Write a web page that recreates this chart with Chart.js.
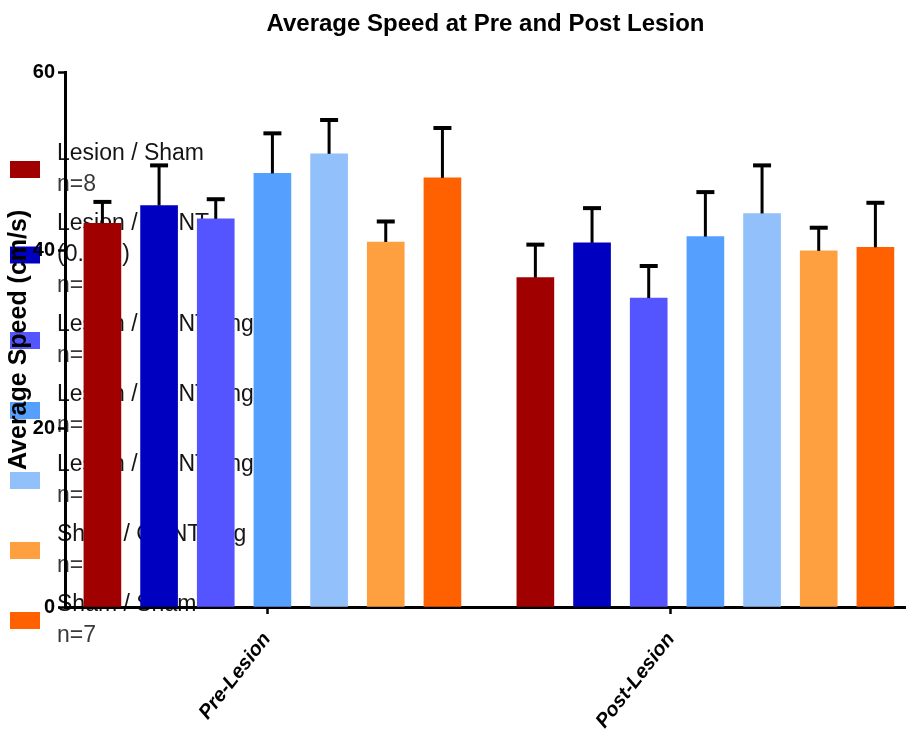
<!DOCTYPE html>
<html>
<head>
<meta charset="utf-8">
<script src="https://cdn.jsdelivr.net/npm/chart.js@4.4.1/dist/chart.umd.min.js"></script>
<style>
  html, body { margin: 0; padding: 0; background: #fff; }
  #wrap { width: 906px; height: 736px; }
</style>
</head>
<body>
<div id="wrap"><canvas id="speedChart" width="906" height="736"></canvas></div>
<script>
// ---- data ----
const categories = ['Pre-Lesion', 'Post-Lesion'];
const seriesNames = [
  'Lesion / Sham',
  'Lesion / GDNT (0.5ng)',
  'Lesion / GDNT 1ng',
  'Lesion / GDNT 2ng',
  'Lesion / GDNT 4ng',
  'Sham / GDNT 4ng',
  'Sham / Sham'
];
const groupSizes = [8, 6, 7, 8, 8, 8, 7];
const seriesColors = ['#a00000', '#0000c0', '#5555ff', '#55a0ff', '#92c0fa', '#ffa040', '#ff6000'];
const preMeans   = [43.1, 45.1, 43.6, 48.7, 50.9, 41.0, 48.2];
const preErrors  = [2.4, 4.5, 2.2, 4.5, 3.8, 2.3, 5.6];
const postMeans  = [37.0, 40.9, 34.7, 41.6, 44.2, 40.0, 40.4];
const postErrors = [3.7, 3.9, 3.6, 5.0, 5.4, 2.6, 5.0];
const yTicks = [0, 20, 40, 60];

// ---- layout of the bar slots along the x axis (one unit = one bar pitch) ----
const GROUP_START = [0.66, 8.30];
const CATEGORY_TICK_AT = [3.565, 10.69];
const X_MAX = 14.84;
const FONT = '"Liberation Sans", Arial, Helvetica, sans-serif';

const datasets = seriesNames.map((name, i) => ({
  label: name,
  data: [
    { x: GROUP_START[0] + i, y: preMeans[i] },
    { x: GROUP_START[1] + i, y: postMeans[i] }
  ],
  errors: [preErrors[i], postErrors[i]],
  backgroundColor: seriesColors[i],
  borderWidth: 0,
  barThickness: 37,
  grouped: false
}));

// upper SEM whiskers with caps
const errorBars = {
  id: 'errorBars',
  afterDatasetsDraw(chart) {
    const ctx = chart.ctx;
    const yScale = chart.scales.y;
    ctx.save();
    ctx.strokeStyle = '#000';
    chart.data.datasets.forEach((ds, di) => {
      chart.getDatasetMeta(di).data.forEach((bar, j) => {
        const top = yScale.getPixelForValue(ds.data[j].y + ds.errors[j]);
        ctx.lineWidth = 3;
        ctx.beginPath();
        ctx.moveTo(bar.x, bar.y);
        ctx.lineTo(bar.x, top);
        ctx.stroke();
        ctx.lineWidth = 4;
        ctx.beginPath();
        ctx.moveTo(bar.x - 9, top);
        ctx.lineTo(bar.x + 9, top);
        ctx.stroke();
      });
    });
    ctx.restore();
  }
};

function wrapText(ctx, text, maxWidth) {
  const words = text.split(' ');
  const lines = [];
  let line = '';
  words.forEach(w => {
    const test = line ? line + ' ' + w : w;
    if (line && ctx.measureText(test).width > maxWidth) {
      lines.push(line);
      line = w;
    } else {
      line = test;
    }
  });
  if (line) lines.push(line);
  return lines;
}

// group legend on the left, painted underneath axes and bars
const sideLegend = {
  id: 'sideLegend',
  beforeDraw(chart) {
    const ctx = chart.ctx;
    const lineH = 31;
    ctx.save();
    ctx.font = '23px ' + FONT;
    ctx.textBaseline = 'middle';
    ctx.textAlign = 'left';
    let y = 154;
    chart.data.datasets.forEach((ds, i) => {
      const lines = wrapText(ctx, ds.label, 215);
      lines.push('n=' + groupSizes[i]);
      const mid = y + (lines.length - 1) * lineH / 2;
      ctx.fillStyle = ds.backgroundColor;
      ctx.fillRect(10, mid - 8.5, 30, 17);
      lines.forEach((t, k) => {
        ctx.fillStyle = k === lines.length - 1 ? '#3a3a3a' : '#151515';
        ctx.fillText(t, 57, y + k * lineH);
      });
      y += lines.length * lineH + 8;
    });
    ctx.restore();
  }
};

const axisGrid = {
  drawOnChartArea: false,
  drawTicks: true,
  tickLength: 7,
  tickWidth: 2.5,
  tickColor: '#000',
  offset: false
};

new Chart(document.getElementById('speedChart'), {
  type: 'bar',
  data: { datasets },
  plugins: [sideLegend, errorBars],
  options: {
    responsive: false,
    animation: false,
    devicePixelRatio: 1,
    layout: { padding: 0 },
    plugins: {
      legend: { display: false },
      tooltip: { enabled: false },
      title: {
        display: true,
        text: 'Average Speed at Pre and Post Lesion',
        fullSize: false,
        color: '#000',
        font: { family: FONT, size: 24, weight: 'bold', lineHeight: 1.2 },
        padding: { top: 10, bottom: 34 }
      }
    },
    scales: {
      x: {
        type: 'linear',
        min: 0,
        max: X_MAX,
        offset: false,
        grid: axisGrid,
        border: { color: '#000', width: 3 },
        afterBuildTicks: s => { s.ticks = CATEGORY_TICK_AT.map(v => ({ value: v })); },
        afterFit: s => { s.height = 129; },
        ticks: {
          autoSkip: false,
          minRotation: 52,
          maxRotation: 52,
          padding: 14,
          color: '#000',
          font: { family: FONT, size: 20, weight: 'bold', style: 'italic' },
          callback: (v, i) => categories[i]
        }
      },
      y: {
        min: 0,
        max: 60,
        grid: axisGrid,
        border: { color: '#000', width: 3 },
        afterBuildTicks: s => { s.ticks = yTicks.map(v => ({ value: v })); },
        afterFit: s => { s.width = 65; },
        ticks: {
          padding: 3,
          color: '#000',
          font: { family: FONT, size: 20, weight: 'bold' }
        },
        title: {
          display: true,
          text: 'Average Speed (cm/s)',
          color: '#000',
          font: { family: FONT, size: 25, weight: 'bold', lineHeight: 1.2 },
          padding: { top: 4, bottom: 0 }
        }
      }
    }
  }
});
</script>
</body>
</html>
